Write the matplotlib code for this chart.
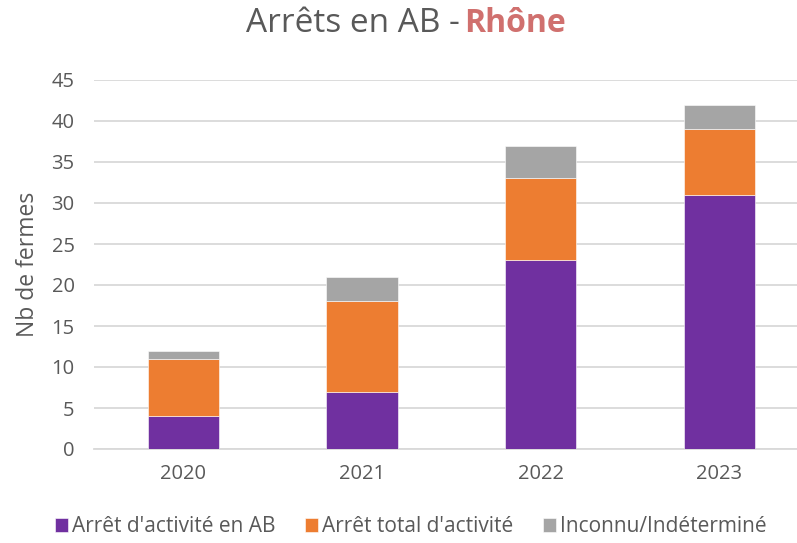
import numpy as np
import matplotlib.pyplot as plt

plt.rcParams['font.family'] = ['Open Sans', 'DejaVu Sans']

# data
years = ['2020', '2021', '2022', '2023']
arret_ab = [4, 7, 23, 31]
arret_total = [7, 11, 10, 8]
inconnu = [1, 3, 4, 3]
labels = ["Arrêt d'activité en AB", "Arrêt total d'activité", "Inconnu/Indéterminé"]
colors = ['#7030A0', '#ED7D31', '#A5A5A5']

txt = '#595959'
grid = '#D9D9D9'

fig = plt.figure(figsize=(7.97, 5.43), dpi=100)
ax = fig.add_axes([94/797, 1-449/543, 703/797, 369/543])

x = np.arange(len(years))
w = 0.4
b1 = np.array(arret_ab)
b2 = b1 + np.array(arret_total)
ax.bar(x, arret_ab, w, color=colors[0], edgecolor='white', linewidth=0.4, label=labels[0], zorder=3)
ax.bar(x, arret_total, w, bottom=b1, color=colors[1], edgecolor='white', linewidth=0.4, label=labels[1], zorder=3)
ax.bar(x, inconnu, w, bottom=b2, color=colors[2], edgecolor='white', linewidth=0.4, label=labels[2], zorder=3)

ax.set_xlim(-0.5, 3.434)
ax.set_ylim(0, 45)
ax.set_yticks(range(0, 46, 5))
ax.set_xticks(x)
ax.set_xticklabels(years)
ax.grid(axis='y', color=grid, linewidth=1.3, zorder=0)
for s in ['top', 'right', 'left']:
    ax.spines[s].set_visible(False)
ax.spines['bottom'].set_color(grid)
ax.spines['bottom'].set_linewidth(1.3)
ax.tick_params(axis='both', length=0, labelsize=14.5, labelcolor=txt)
ax.tick_params(axis='x', pad=11)
ax.tick_params(axis='y', pad=14)
ax.set_ylabel('Nb de fermes', fontsize=16.5, color=txt, labelpad=8)

# two-colour title
fig.text(460/797, 1-24/543, 'Arrêts en AB -', ha='right', va='center', fontsize=24, color=txt)
fig.text(464/797, 1-24/543, 'Rhône', ha='left', va='center', fontsize=23, color='#D0706E', fontweight='bold')

leg = fig.legend(loc='center', bbox_to_anchor=(411/797, 1-527/543), ncol=3, frameon=False,
                 fontsize=15, handlelength=0.63, handleheight=0.63, handletextpad=0.2, columnspacing=1.4)
for t in leg.get_texts():
    t.set_color(txt)

fig.savefig('out.png', dpi=100)
